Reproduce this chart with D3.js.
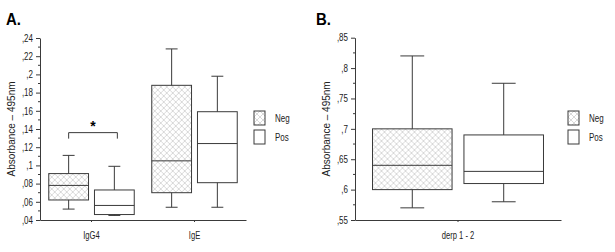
<!DOCTYPE html>
<html>
<head>
<meta charset="utf-8">
<script src="https://cdn.jsdelivr.net/npm/d3@7"></script>
<style>
  body { margin: 0; background: #fff; }
  svg { display: block; font-family: "Liberation Sans", Arial, sans-serif; }
</style>
</head>
<body>
<div id="chart"></div>
<script>
// box stats: [min, q1, median, q3, max]
const seriesNames = ["Neg", "Pos"];

const groupsA = ["IgG4", "IgE"];
const negA = [[0.052, 0.062, 0.078, 0.091, 0.111], [0.054, 0.070, 0.105, 0.188, 0.228]];
const posA = [[0.045, 0.046, 0.056, 0.073, 0.099], [0.054, 0.081, 0.124, 0.159, 0.198]];
const ticksA = [0.04, 0.06, 0.08, 0.1, 0.12, 0.14, 0.16, 0.18, 0.2, 0.22, 0.24];
const tickLabelsA = [",04", ",06", ",08", ",1", ",12", ",14", ",16", ",18", ",2", ",22", ",24"];

const groupsB = ["derp 1 - 2"];
const negB = [[0.57, 0.60, 0.64, 0.70, 0.82]];
const posB = [[0.58, 0.61, 0.63, 0.69, 0.775]];
const ticksB = [0.55, 0.6, 0.65, 0.7, 0.75, 0.8, 0.85];
const tickLabelsB = [",55", ",6", ",65", ",7", ",75", ",8", ",85"];

const W = 615, H = 252;
const ink = "#3a3a3a";
const narrow = 0.8; // the original's text is squeezed sideways

const svg = d3.select("#chart").append("svg")
  .attr("width", W).attr("height", H);

// cross-hatch pattern for Neg
const defs = svg.append("defs");
const pat = defs.append("pattern")
  .attr("id", "hatch")
  .attr("patternUnits", "userSpaceOnUse")
  .attr("width", 6).attr("height", 6);
pat.append("rect").attr("width", 6).attr("height", 6).attr("fill", "#fff");
pat.append("path")
  .attr("d", "M0,0 L6,6 M6,0 L0,6 M-1,5 L1,7 M5,-1 L7,1 M-1,1 L1,-1 M5,7 L7,5")
  .attr("stroke", "#cfcfcf").attr("stroke-width", 0.8);

function squeeze(sel, k = narrow) {
  sel.each(function () {
    const t = d3.select(this);
    const x = +t.attr("x") || 0;
    t.attr("x", x / k).attr("transform", `scale(${k},1)`);
  });
}

function drawPanel(opt) {
  const { left, right, top, bottom, domain, ticks, labels, groups, neg, pos, letter, legendX } = opt;

  const g = svg.append("g");

  const y = d3.scaleLinear().domain(domain).range([bottom, top]);
  const x = d3.scaleBand().domain(groups).range([left, right]);
  const inner = d3.scaleBand().domain(seriesNames)
    .range([-x.bandwidth() * 0.415, x.bandwidth() * 0.415])
    .paddingInner(0.13);

  // panel letter
  g.append("text")
    .attr("x", opt.letterX).attr("y", 25)
    .attr("font-size", 17).attr("font-weight", "bold")
    .attr("fill", "#000")
    .text(letter)
    .call(squeeze, 0.88);

  // y axis
  const yAxis = d3.axisLeft(y).tickValues(ticks)
    .tickFormat((d, i) => labels[i]).tickSize(4).tickSizeOuter(0);
  const ya = g.append("g").attr("transform", `translate(${left},0)`).call(yAxis);
  ya.select(".domain").attr("stroke", ink);
  ya.selectAll(".tick line").attr("stroke", ink);
  ya.selectAll(".tick text").attr("font-size", 10).attr("fill", "#222")
    .attr("font-family", "inherit").call(squeeze);

  // minor ticks
  const minor = d3.pairs(ticks).map(([a, b]) => (a + b) / 2);
  g.append("g").selectAll("line").data(minor).join("line")
    .attr("x1", left - 2).attr("x2", left)
    .attr("y1", d => y(d)).attr("y2", d => y(d))
    .attr("stroke", ink);

  // y title
  g.append("text")
    .attr("transform", `translate(${left - 25},${(top + bottom) / 2}) rotate(-90)`)
    .attr("text-anchor", "middle")
    .attr("font-size", 10).attr("fill", "#222")
    .text("Absorbance \u2013 495nm");

  // x axis
  const xAxis = d3.axisBottom(x).tickSize(2).tickSizeOuter(0).tickPadding(10);
  const xa = g.append("g").attr("transform", `translate(0,${bottom})`).call(xAxis);
  xa.select(".domain").attr("stroke", ink);
  xa.selectAll(".tick line").attr("stroke", ink);
  xa.selectAll(".tick text").attr("font-size", 10).attr("fill", "#222")
    .attr("font-family", "inherit").call(squeeze, 0.76);

  // boxes
  const rows = [];
  groups.forEach((grp, i) => {
    rows.push({ grp, s: "Neg", v: neg[i] });
    rows.push({ grp, s: "Pos", v: pos[i] });
  });

  const bw = inner.bandwidth();
  const cap = bw * 0.3;
  const box = g.append("g").selectAll("g").data(rows).join("g")
    .attr("transform", d => `translate(${x(d.grp) + x.bandwidth() / 2 + inner(d.s)},0)`);

  box.append("line")
    .attr("x1", bw / 2).attr("x2", bw / 2)
    .attr("y1", d => y(d.v[4])).attr("y2", d => y(d.v[0]))
    .attr("stroke", ink);
  box.append("line")
    .attr("x1", bw / 2 - cap / 2).attr("x2", bw / 2 + cap / 2)
    .attr("y1", d => y(d.v[4])).attr("y2", d => y(d.v[4]))
    .attr("stroke", ink);
  box.append("line")
    .attr("x1", bw / 2 - cap / 2).attr("x2", bw / 2 + cap / 2)
    .attr("y1", d => y(d.v[0])).attr("y2", d => y(d.v[0]))
    .attr("stroke", ink);
  box.append("rect")
    .attr("x", 0).attr("width", bw)
    .attr("y", d => y(d.v[3])).attr("height", d => y(d.v[1]) - y(d.v[3]))
    .attr("fill", d => d.s === "Neg" ? "url(#hatch)" : "#fff")
    .attr("stroke", ink);
  box.append("line")
    .attr("x1", 0).attr("x2", bw)
    .attr("y1", d => y(d.v[2])).attr("y2", d => y(d.v[2]))
    .attr("stroke", ink);

  // legend
  const leg = g.append("g").selectAll("g").data(seriesNames).join("g")
    .attr("transform", (d, i) => `translate(${legendX},${111 + i * 19})`);
  leg.append("rect")
    .attr("width", 11).attr("height", 14)
    .attr("fill", d => d === "Neg" ? "url(#hatch)" : "#fff")
    .attr("stroke", ink);
  leg.append("text")
    .attr("x", 21).attr("y", 11)
    .attr("font-size", 10).attr("fill", "#222")
    .text(d => d)
    .call(squeeze);

  return { x, y, inner };
}

const pa = drawPanel({
  left: 40, right: 246, top: 38, bottom: 220,
  domain: [0.04, 0.24], ticks: ticksA, labels: tickLabelsA,
  groups: groupsA, neg: negA, pos: posA,
  letter: "A.", letterX: 6, legendX: 254
});

// significance bracket IgG4
const bx = pa.x("IgG4") + pa.x.bandwidth() / 2;
const bx1 = bx + pa.inner("Neg") + pa.inner.bandwidth() / 2;
const bx2 = bx + pa.inner("Pos") + pa.inner.bandwidth() / 2 + 3;
const by = pa.y(0.136);
svg.append("path")
  .attr("d", `M${bx1},${by + 6} V${by} H${bx2} V${by + 6}`)
  .attr("fill", "none").attr("stroke", ink);
svg.append("text")
  .attr("x", (bx1 + bx2) / 2).attr("y", by - 2)
  .attr("text-anchor", "middle")
  .attr("font-size", 14).attr("font-weight", "bold")
  .text("*");

drawPanel({
  left: 355, right: 561, top: 37.7, bottom: 220,
  domain: [0.55, 0.85], ticks: ticksB, labels: tickLabelsB,
  groups: groupsB, neg: negB, pos: posB,
  letter: "B.", letterX: 316, legendX: 568
});
</script>
</body>
</html>
